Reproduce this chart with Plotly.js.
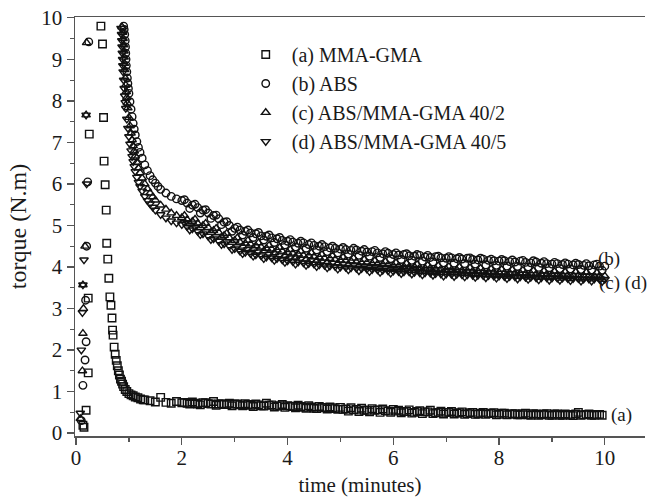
<!DOCTYPE html>
<html>
<head>
<meta charset="utf-8">
<script src="https://cdn.plot.ly/plotly-3.0.1.min.js"></script>
<style>html,body{margin:0;padding:0;background:#fff;}#chart{width:647px;height:500px;}</style>
</head>
<body>
<div id="chart"></div>
<script>
// ---- data ----
const seriesNames = ["(a) MMA-GMA", "(b) ABS", "(c) ABS/MMA-GMA 40/2", "(d) ABS/MMA-GMA 40/5"];

// (a) MMA-GMA
const tA_early = [0.13, 0.15, 0.19, 0.23, 0.23, 0.25];
const yA_early = [0.19, 0.14, 0.55, 1.45, 3.25, 7.2];
const tA_drop = [0.47,0.5,0.52,0.53,0.55,0.57,0.58,0.6,0.62,0.64,0.66,0.68,0.69,0.7,0.72,0.74,0.76,0.78,0.8,0.82,0.84,0.86,0.88,0.9,0.93,0.96,1.0,1.04,1.08,1.12,1.17,1.22,1.27];
const yA_drop = [9.8,9.37,7.6,6.55,5.98,5.37,4.57,4.19,3.73,3.28,3.08,2.77,2.48,2.36,2.07,1.9,1.75,1.62,1.5,1.4,1.3,1.25,1.18,1.12,1.05,1.0,0.95,0.92,0.9,0.87,0.85,0.82,0.8];
const tA_tail = [1.3,1.4,1.5,1.6,1.7,1.8,1.9,2.0,2.1,2.2,2.3,2.4,2.5,2.6,2.7,2.8,2.9,3.0,3.1,3.2,3.3,3.4,3.5,3.6,3.7,3.8,3.9,4.0,4.1,4.2,4.3,4.4,4.5,4.6,4.7,4.8,4.9,5.0,5.1,5.2,5.3,5.4,5.5,5.6,5.7,5.8,5.9,6.0,6.1,6.2,6.3,6.4,6.5,6.6,6.7,6.8,6.9,7.0,7.1,7.2,7.3,7.4,7.5,7.6,7.7,7.8,7.9,8.0,8.1,8.2,8.3,8.4,8.5,8.6,8.7,8.8,8.9,9.0,9.1,9.2,9.3,9.4,9.5,9.6,9.7,9.8,9.9];
const yA_tail = [0.8,0.78,0.75,0.86,0.74,0.72,0.76,0.73,
  0.72,0.75,0.7,0.73,0.71,0.76,0.7,0.69,0.72,0.7,
  0.68,0.71,0.67,0.7,0.66,0.72,0.68,0.65,0.69,0.66,
  0.64,0.67,0.62,0.66,0.6,0.64,0.61,0.63,0.59,0.62,
  0.58,0.61,0.57,0.6,0.55,0.59,0.56,0.58,0.53,0.57,
  0.55,0.52,0.56,0.5,0.54,0.51,0.55,0.49,0.53,0.5,
  0.52,0.48,0.51,0.47,0.5,0.46,0.5,0.47,0.49,0.45,
  0.48,0.45,0.47,0.44,0.48,0.43,0.46,0.44,0.47,0.43,
  0.46,0.43,0.45,0.42,0.5,0.44,0.46,0.43,0.45];

// shared tail times for the decay of (a)-(d)
const tTail = [2.1,2.2,2.3,2.4,2.5,2.6,2.7,2.8,2.9,3.0,3.1,3.2,3.3,3.4,3.5,3.6,3.7,3.8,3.9,4.0,4.1,4.2,4.3,4.4,4.5,4.6,4.7,4.8,4.9,5.0,5.1,5.2,5.3,5.4,5.5,5.6,5.7,5.8,5.9,6.0,6.1,6.2,6.3,6.4,6.5,6.6,6.7,6.8,6.9,7.0,7.1,7.2,7.3,7.4,7.5,7.6,7.7,7.8,7.9,8.0,8.1,8.2,8.3,8.4,8.5,8.6,8.7,8.8,8.9,9.0,9.1,9.2,9.3,9.4,9.5,9.6,9.7,9.8,9.9,10.0];
const tTail2 = [2.05,2.15,2.25,2.35,2.45,2.55,2.65,2.75,2.85,2.95,3.05,3.15,3.25,3.35,3.45,3.55,3.65,3.75,3.85,3.95,4.05,4.15,4.25,4.35,4.45,4.55,4.65,4.75,4.85,4.95,5.05,5.15,5.25,5.35,5.45,5.55,5.65,5.75,5.85,5.95,6.05,6.15,6.25,6.35,6.45,6.55,6.65,6.75,6.85,6.95,7.05,7.15,7.25,7.35,7.45,7.55,7.65,7.75,7.85,7.95,8.05,8.15,8.25,8.35,8.45,8.55,8.65,8.75,8.85,8.95,9.05,9.15,9.25,9.35,9.45,9.55,9.65,9.75,9.85,9.95];

const yA_tail2 = [0.74,0.7,0.72,0.68,0.73,0.7,0.67,0.71,0.69,0.66,
  0.7,0.66,0.69,0.64,0.68,0.65,0.67,0.63,0.66,0.62,
  0.65,0.61,0.64,0.6,0.63,0.59,0.62,0.58,0.61,0.57,
  0.57,0.53,0.56,0.52,0.55,0.51,0.55,0.5,0.54,0.5,
  0.53,0.49,0.52,0.48,0.52,0.47,0.51,0.47,0.5,0.46,
  0.5,0.46,0.49,0.45,0.49,0.45,0.48,0.45,0.48,0.44,
  0.48,0.44,0.47,0.44,0.47,0.44,0.47,0.43,0.46,0.43,
  0.46,0.43,0.46,0.43,0.46,0.43,0.45,0.43,0.45,0.43];

// (b) ABS
const tB_early = [0.1,0.13,0.17,0.19,0.18,0.2,0.22,0.24];
const yB_early = [0.3,1.15,1.76,2.2,3.2,4.5,6.05,9.42];
const tB_steep = [0.9,0.91,0.92,0.93,0.935,0.94,0.945,0.95,0.96,0.97,0.98,0.99,1.0,1.02,1.04,1.06,1.08,1.1,1.12,1.15,1.18,1.21,1.25,1.3,1.35,1.4,1.45,1.5,1.55,1.6,1.7,1.8,1.9,2.0];
const yB_steep = [9.8,9.72,9.6,9.45,9.3,9.15,9.0,8.85,8.7,8.55,8.42,8.3,8.18,7.98,7.8,7.62,7.46,7.32,7.18,7.02,6.88,6.76,6.62,6.46,6.32,6.2,6.1,6.02,5.94,5.87,5.78,5.7,5.64,5.6];
const yB_tail = [5.54,5.49,5.43,5.37,5.3,5.24,5.16,5.08,5.0,4.93,
  4.89,4.86,4.82,4.8,4.75,4.74,4.7,4.68,4.64,4.62,
  4.6,4.57,4.58,4.54,4.52,4.5,4.49,4.46,4.45,4.43,
  4.42,4.4,4.41,4.38,4.36,4.37,4.34,4.32,4.33,4.3,
  4.29,4.3,4.27,4.26,4.28,4.24,4.23,4.25,4.22,4.21,
  4.22,4.2,4.19,4.21,4.18,4.17,4.19,4.16,4.15,4.14,
  4.15,4.13,4.12,4.14,4.11,4.1,4.12,4.09,4.08,4.07,
  4.08,4.06,4.07,4.05,4.06,4.04,4.03,4.05,4.02,4.02];
const yB_tail2 = [5.62,5.41,5.51,5.3,5.38,5.17,5.25,5.02,5.09,4.86,
  4.96,4.77,4.89,4.71,4.83,4.65,4.77,4.59,4.71,4.53,
  4.66,4.48,4.62,4.45,4.58,4.41,4.54,4.37,4.5,4.34,
  4.47,4.31,4.45,4.28,4.42,4.26,4.4,4.23,4.37,4.2,
  4.34,4.18,4.32,4.16,4.3,4.14,4.28,4.12,4.26,4.1,
  4.25,4.09,4.23,4.08,4.22,4.07,4.21,4.05,4.19,4.04,
  4.18,4.02,4.17,4.01,4.16,4.0,4.15,3.99,4.13,3.98,
  4.11,3.96,4.1,3.95,4.09,3.94,4.08,3.93,4.07,3.92];

// (c) ABS/MMA-GMA 40/2
const tC_early = [0.08,0.12,0.13,0.14,0.13,0.17,0.19,0.2];
const yC_early = [0.35,1.5,2.4,3.0,3.57,4.5,7.66,9.4];
const tC_steep = [0.87,0.88,0.89,0.9,0.905,0.91,0.915,0.92,0.93,0.94,0.95,0.96,0.97,0.98,1.0,1.02,1.04,1.06,1.08,1.1,1.12,1.15,1.18,1.21,1.25,1.3,1.35,1.4,1.45,1.5,1.6,1.7,1.8,1.9,2.0];
const yC_steep = [9.78,9.65,9.5,9.35,9.2,9.05,8.9,8.75,8.55,8.38,8.22,8.08,7.95,7.83,7.6,7.4,7.22,7.06,6.92,6.79,6.67,6.52,6.38,6.27,6.14,6.0,5.88,5.78,5.69,5.61,5.49,5.39,5.3,5.24,5.19];
const yC_tail = [5.14,5.1,5.05,5.0,4.95,4.88,4.83,4.76,4.7,4.64,
  4.6,4.57,4.55,4.51,4.48,4.45,4.43,4.41,4.38,4.35,
  4.33,4.31,4.28,4.27,4.25,4.23,4.21,4.2,4.18,4.16,
  4.15,4.14,4.12,4.1,4.1,4.08,4.07,4.06,4.05,4.03,
  4.02,4.01,4.0,4.0,3.98,3.97,3.97,3.95,3.95,3.94,
  3.93,3.93,3.92,3.91,3.9,3.9,3.89,3.88,3.88,3.87,
  3.86,3.86,3.85,3.85,3.84,3.84,3.83,3.83,3.82,3.82,
  3.81,3.81,3.8,3.8,3.8,3.79,3.79,3.78,3.78,3.78];
const yC_tail2 = [5.24,5.04,5.15,4.94,5.05,4.83,4.93,4.72,4.81,4.59,
  4.7,4.5,4.64,4.45,4.58,4.39,4.52,4.34,4.47,4.28,
  4.42,4.24,4.38,4.19,4.34,4.16,4.3,4.12,4.27,4.09,
  4.23,4.06,4.21,4.03,4.18,4.01,4.15,3.98,4.13,3.96,
  4.1,3.93,4.08,3.91,4.06,3.89,4.04,3.87,4.03,3.86,
  4.01,3.85,4.0,3.84,3.98,3.82,3.97,3.81,3.95,3.79,
  3.94,3.78,3.93,3.77,3.92,3.76,3.91,3.75,3.9,3.74,
  3.89,3.73,3.88,3.72,3.88,3.71,3.87,3.71,3.86,3.7];

// (d) ABS/MMA-GMA 40/5
const tD_early = [0.08,0.1,0.12,0.13,0.15,0.2,0.19];
const yD_early = [0.48,2.0,2.9,3.57,4.17,6.0,7.66];
const tD_steep = [0.85,0.86,0.865,0.87,0.875,0.88,0.885,0.89,0.9,0.91,0.92,0.93,0.94,0.96,0.98,1.0,1.02,1.04,1.06,1.08,1.1,1.12,1.15,1.18,1.21,1.25,1.3,1.35,1.4,1.45,1.5,1.6,1.7,1.8,1.9,2.0];
const yD_steep = [9.75,9.6,9.45,9.3,9.15,9.0,8.85,8.7,8.5,8.3,8.12,7.96,7.82,7.56,7.34,7.14,6.96,6.8,6.66,6.54,6.42,6.3,6.16,6.04,5.94,5.83,5.7,5.6,5.52,5.44,5.37,5.26,5.18,5.11,5.06,5.02];
const yD_tail = [4.97,4.92,4.86,4.8,4.74,4.68,4.62,4.56,4.5,4.44,
  4.38,4.35,4.32,4.29,4.27,4.24,4.22,4.2,4.17,4.15,
  4.13,4.12,4.1,4.08,4.07,4.05,4.04,4.02,4.01,4.0,
  3.99,3.98,3.97,3.96,3.95,3.94,3.93,3.92,3.91,3.9,
  3.89,3.88,3.88,3.87,3.86,3.86,3.85,3.84,3.83,3.83,
  3.82,3.82,3.81,3.81,3.8,3.8,3.79,3.79,3.78,3.78,
  3.77,3.77,3.76,3.76,3.75,3.75,3.74,3.74,3.74,3.73,
  3.73,3.73,3.72,3.72,3.72,3.71,3.71,3.71,3.7,3.7];
const yD_tail2 = [5.07,4.89,4.97,4.78,4.85,4.66,4.73,4.54,4.61,4.42,
  4.49,4.32,4.42,4.26,4.36,4.2,4.31,4.16,4.27,4.11,
  4.22,4.07,4.19,4.04,4.15,4.01,4.12,3.98,4.09,3.95,
  4.07,3.93,4.05,3.91,4.03,3.89,4.01,3.87,3.99,3.85,
  3.97,3.84,3.96,3.83,3.94,3.81,3.93,3.8,3.91,3.78,
  3.9,3.77,3.89,3.76,3.88,3.75,3.87,3.74,3.86,3.73,
  3.85,3.72,3.84,3.71,3.83,3.7,3.82,3.69,3.81,3.68,
  3.81,3.68,3.8,3.67,3.8,3.66,3.79,3.66,3.78,3.65];

const endLabels = ["(a)", "(b)", "(c) (d)"];

// ---- chart ----
const serif = "Liberation Serif, Times New Roman, serif";
const ink = "#111";
const txt = "#1a1a1a";
const symbols = ["square-open", "circle-open", "triangle-up-open", "triangle-down-open"];
function mk(i, x, y) {
  return {
    type: "scatter", mode: "markers", name: seriesNames[i], x: x, y: y,
    marker: {symbol: symbols[i], size: 7.5, color: ink, line: {width: 1.4, color: ink}},
    cliponaxis: false
  };
}
const traces = [
  mk(0, tA_early.concat(tA_drop, tA_tail, tTail2), yA_early.concat(yA_drop, yA_tail, yA_tail2)),
  mk(1, tB_early.concat(tB_steep, tTail, tTail2), yB_early.concat(yB_steep, yB_tail, yB_tail2)),
  mk(2, tC_early.concat(tC_steep, tTail, tTail2), yC_early.concat(yC_steep, yC_tail, yC_tail2)),
  mk(3, tD_early.concat(tD_steep, tTail, tTail2), yD_early.concat(yD_steep, yD_tail, yD_tail2))
];

const axisLine = "#555";
const layout = {
  width: 647, height: 500,
  margin: {l: 75, r: 2, t: 17, b: 64},
  paper_bgcolor: "#fff", plot_bgcolor: "#fff",
  font: {family: serif, size: 21, color: txt},
  showlegend: true,
  legend: {
    x: 0.289, y: 0.957, xanchor: "left", yanchor: "top",
    bgcolor: "rgba(0,0,0,0)", borderwidth: 0, itemwidth: 42,
    font: {family: serif, size: 20, color: txt}
  },
  xaxis: {
    range: [-0.02, 10.76], dtick: 2, tick0: 0,
    ticks: "outside", ticklen: 7, tickwidth: 1.3, tickcolor: axisLine,
    minor: {dtick: 1, ticks: "outside", ticklen: 4, tickwidth: 1.2, tickcolor: axisLine},
    showline: true, linecolor: axisLine, linewidth: 1.5, mirror: true,
    showgrid: false, zeroline: false, ticklabelstandoff: -5,
    tickfont: {family: serif, size: 21, color: txt},
    title: {text: "time (minutes)", font: {family: serif, size: 21, color: txt}, standoff: 8}
  },
  yaxis: {
    range: [-0.07, 10.02], dtick: 1, tick0: 0,
    ticks: "outside", ticklen: 7, tickwidth: 1.3, tickcolor: axisLine,
    minor: {dtick: 0.5, ticks: "outside", ticklen: 4, tickwidth: 1.2, tickcolor: axisLine},
    showline: true, linecolor: axisLine, linewidth: 1.5, mirror: false,
    showgrid: false, zeroline: false,
    tickfont: {family: serif, size: 21, color: txt},
    title: {text: "torque (N.m)", font: {family: serif, size: 24, color: txt}, standoff: 8}
  },
  annotations: [
    {x: 10.09, y: 0.43, xref: "x", yref: "y", text: endLabels[0], showarrow: false, xanchor: "left", borderpad: 0, font: {family: serif, size: 19, color: txt}},
    {x: 9.86, y: 3.9, xref: "x", yref: "y", text: endLabels[1], showarrow: false, xanchor: "left", yanchor: "bottom", borderpad: 0, font: {family: serif, size: 19, color: txt}},
    {x: 9.88, y: 3.9, xref: "x", yref: "y", text: endLabels[2], showarrow: false, xanchor: "left", yanchor: "top", borderpad: 0, font: {family: serif, size: 19, color: txt}}
  ]
};

Plotly.newPlot("chart", traces, layout, {displayModeBar: false, staticPlot: true});
</script>
</body>
</html>
